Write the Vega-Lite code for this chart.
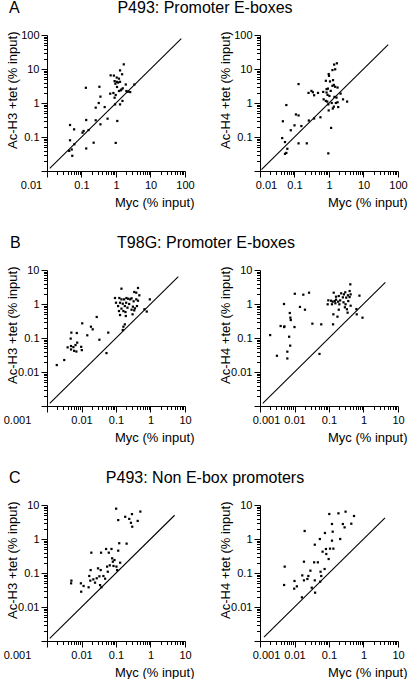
{
  "$schema": "https://vega.github.io/schema/vega-lite/v6.json",
  "padding": {"left": 3, "top": 0, "right": 0, "bottom": 0},
  "background": "white",
  "config": {
    "font": "Liberation Sans",
    "view": {"stroke": null},
    "axis": {"domainColor": "black", "domainWidth": 1, "tickColor": "black", "tickWidth": 1, "labelColor": "black", "labelFontSize": 11, "labelFont": "Liberation Sans", "titleFont": "Liberation Sans", "titleFontSize": 13, "titleFontWeight": "normal", "titleColor": "black", "grid": false, "labelOverlap": false, "labelFlush": false, "labelBound": false},
    "title": {"fontSize": 16, "fontWeight": "normal", "color": "black", "font": "Liberation Sans", "offset": 13, "baseline": "alphabetic", "frame": "group"}
  },
  "datasets": {
    "A1": [{"x":1.68,"y":13.7},{"x":1.31,"y":9.1},{"x":0.70,"y":6.5},{"x":0.87,"y":6.4},{"x":1.50,"y":7.0},{"x":1.05,"y":5.6},{"x":1.22,"y":5.2},{"x":0.91,"y":4.4},{"x":1.05,"y":4.2},{"x":1.15,"y":4.0},{"x":0.96,"y":3.7},{"x":1.31,"y":4.2},{"x":0.33,"y":3.0},{"x":0.134,"y":2.8},{"x":1.92,"y":3.5},{"x":1.07,"y":2.96},{"x":1.44,"y":2.5},{"x":1.57,"y":2.7},{"x":3.4,"y":3.5},{"x":0.68,"y":1.88},{"x":0.84,"y":1.97},{"x":0.98,"y":1.72},{"x":0.91,"y":1.43},{"x":1.22,"y":2.25},{"x":1.37,"y":2.36},{"x":2.0,"y":2.25},{"x":2.25,"y":2.15},{"x":2.58,"y":2.1},{"x":0.354,"y":1.54},{"x":1.54,"y":1.15},{"x":1.31,"y":0.91},{"x":0.316,"y":1.0},{"x":0.258,"y":0.73},{"x":0.47,"y":0.76},{"x":0.94,"y":0.91},{"x":1.09,"y":0.296},{"x":0.57,"y":0.346},{"x":0.137,"y":0.316},{"x":0.258,"y":0.31},{"x":0.354,"y":0.236},{"x":0.16,"y":0.16},{"x":0.115,"y":0.15},{"x":0.107,"y":0.134},{"x":0.0465,"y":0.225},{"x":0.061,"y":0.168},{"x":0.0465,"y":0.08},{"x":0.062,"y":0.061},{"x":0.052,"y":0.043},{"x":0.044,"y":0.039},{"x":0.054,"y":0.028},{"x":0.137,"y":0.046},{"x":0.225,"y":0.068},{"x":0.98,"y":0.067}],
    "A2": [{"x":1.69,"y":14.7},{"x":1.41,"y":13.5},{"x":1.51,"y":9.8},{"x":1.26,"y":9.3},{"x":0.98,"y":7.1},{"x":1.0,"y":6.3},{"x":0.81,"y":4.5},{"x":1.07,"y":4.3},{"x":1.31,"y":4.7},{"x":0.131,"y":3.6},{"x":1.38,"y":3.4},{"x":1.26,"y":3.2},{"x":1.51,"y":3.0},{"x":0.85,"y":2.55},{"x":0.93,"y":2.65},{"x":1.12,"y":2.27},{"x":1.77,"y":2.85},{"x":0.31,"y":2.27},{"x":0.34,"y":2.07},{"x":0.255,"y":1.98},{"x":0.48,"y":1.98},{"x":0.37,"y":1.69},{"x":0.68,"y":2.12},{"x":0.85,"y":2.03},{"x":0.91,"y":1.73},{"x":1.03,"y":1.61},{"x":2.17,"y":1.89},{"x":1.44,"y":1.51},{"x":1.65,"y":1.44},{"x":0.70,"y":1.28},{"x":2.55,"y":1.28},{"x":0.81,"y":1.15},{"x":0.89,"y":1.10},{"x":3.35,"y":1.10},{"x":0.058,"y":0.87},{"x":0.955,"y":0.91},{"x":1.2,"y":1.0},{"x":1.58,"y":1.0},{"x":1.77,"y":1.05},{"x":1.38,"y":0.78},{"x":1.85,"y":0.76},{"x":1.29,"y":0.69},{"x":0.98,"y":0.605},{"x":0.11,"y":0.46},{"x":0.131,"y":0.43},{"x":0.26,"y":0.305},{"x":0.37,"y":0.35},{"x":0.565,"y":0.38},{"x":0.046,"y":0.29},{"x":0.158,"y":0.21},{"x":0.1,"y":0.22},{"x":0.078,"y":0.158},{"x":1.15,"y":0.185},{"x":0.044,"y":0.093},{"x":0.053,"y":0.071},{"x":0.131,"y":0.065},{"x":0.227,"y":0.065},{"x":0.062,"y":0.045},{"x":0.053,"y":0.032},{"x":0.058,"y":0.034},{"x":0.955,"y":0.033}],
    "B1": [{"x":0.434,"y":2.96},{"x":0.144,"y":2.82},{"x":0.338,"y":2.25},{"x":0.387,"y":2.15},{"x":0.474,"y":1.8},{"x":0.0935,"y":1.5},{"x":0.125,"y":1.5},{"x":0.144,"y":1.37},{"x":0.172,"y":1.37},{"x":0.2,"y":1.5},{"x":0.225,"y":1.43},{"x":0.283,"y":1.47},{"x":0.258,"y":1.37},{"x":0.387,"y":1.37},{"x":0.956,"y":1.37},{"x":0.1,"y":1.09},{"x":0.131,"y":1.09},{"x":0.157,"y":1.02},{"x":0.197,"y":1.09},{"x":0.241,"y":1.0},{"x":0.324,"y":1.2},{"x":0.434,"y":1.25},{"x":0.115,"y":0.87},{"x":0.18,"y":0.87},{"x":0.215,"y":0.78},{"x":0.144,"y":0.73},{"x":0.309,"y":0.835},{"x":0.354,"y":0.746},{"x":0.405,"y":0.87},{"x":0.122,"y":0.62},{"x":0.164,"y":0.62},{"x":0.188,"y":0.58},{"x":0.283,"y":0.68},{"x":0.338,"y":0.65},{"x":0.667,"y":0.7},{"x":0.78,"y":0.6},{"x":0.131,"y":0.474},{"x":0.192,"y":0.443},{"x":0.302,"y":0.497},{"x":0.0276,"y":0.415},{"x":0.0105,"y":0.27},{"x":0.0188,"y":0.215},{"x":0.0211,"y":0.18},{"x":0.18,"y":0.252},{"x":0.164,"y":0.215},{"x":0.157,"y":0.172},{"x":0.0596,"y":0.144},{"x":0.00508,"y":0.144},{"x":0.0073,"y":0.14},{"x":0.0147,"y":0.12},{"x":0.00486,"y":0.096},{"x":0.033,"y":0.089},{"x":0.0075,"y":0.073},{"x":0.0067,"y":0.062},{"x":0.00396,"y":0.053},{"x":0.00497,"y":0.058},{"x":0.00582,"y":0.054},{"x":0.0098,"y":0.055},{"x":0.0102,"y":0.044},{"x":0.00497,"y":0.046},{"x":0.0061,"y":0.042},{"x":0.0071,"y":0.04},{"x":0.053,"y":0.036},{"x":0.00316,"y":0.0225},{"x":0.00192,"y":0.016}],
    "B2": [{"x":0.415,"y":3.79},{"x":0.137,"y":2.15},{"x":0.296,"y":2.2},{"x":0.396,"y":2.41},{"x":0.762,"y":1.76},{"x":0.0264,"y":2.15},{"x":0.0102,"y":2.0},{"x":0.018,"y":1.88},{"x":0.225,"y":2.06},{"x":0.27,"y":1.92},{"x":0.354,"y":1.8},{"x":0.424,"y":1.92},{"x":0.16,"y":1.64},{"x":0.192,"y":1.72},{"x":0.252,"y":1.57},{"x":0.316,"y":1.54},{"x":0.396,"y":1.6},{"x":0.0955,"y":1.28},{"x":0.115,"y":1.25},{"x":0.128,"y":1.17},{"x":0.147,"y":1.22},{"x":0.16,"y":1.34},{"x":0.184,"y":1.17},{"x":0.211,"y":1.28},{"x":0.122,"y":0.98},{"x":0.153,"y":1.05},{"x":0.2,"y":0.98},{"x":0.264,"y":1.12},{"x":0.302,"y":0.98},{"x":0.362,"y":1.22},{"x":0.0914,"y":0.98},{"x":0.424,"y":0.89},{"x":0.289,"y":0.8},{"x":0.331,"y":0.7},{"x":0.622,"y":0.71},{"x":0.00497,"y":1.0},{"x":0.0144,"y":0.82},{"x":0.0201,"y":0.68},{"x":0.192,"y":0.68},{"x":0.134,"y":0.497},{"x":0.346,"y":0.556},{"x":0.637,"y":0.497},{"x":0.935,"y":0.396},{"x":0.176,"y":0.424},{"x":0.0073,"y":0.543},{"x":0.0076,"y":0.396},{"x":0.0078,"y":0.338},{"x":0.00396,"y":0.225},{"x":0.0051,"y":0.22},{"x":0.005,"y":0.21},{"x":0.01,"y":0.21},{"x":0.033,"y":0.264},{"x":0.0596,"y":0.252},{"x":0.131,"y":0.252},{"x":0.00197,"y":0.122},{"x":0.007,"y":0.109},{"x":0.0075,"y":0.0596},{"x":0.0062,"y":0.0396},{"x":0.0031,"y":0.03},{"x":0.0062,"y":0.025},{"x":0.053,"y":0.034}],
    "C1": [{"x":0.101,"y":7.8},{"x":0.508,"y":6.4},{"x":0.29,"y":5.4},{"x":0.185,"y":4.5},{"x":0.242,"y":3.9},{"x":0.116,"y":3.6},{"x":0.425,"y":3.4},{"x":0.271,"y":3.0},{"x":0.296,"y":2.3},{"x":0.124,"y":0.75},{"x":0.203,"y":0.73},{"x":0.0193,"y":0.396},{"x":0.0369,"y":0.396},{"x":0.0516,"y":0.508},{"x":0.074,"y":0.508},{"x":0.0618,"y":0.396},{"x":0.116,"y":0.454},{"x":0.0773,"y":0.27},{"x":0.0904,"y":0.241},{"x":0.132,"y":0.201},{"x":0.081,"y":0.215},{"x":0.066,"y":0.168},{"x":0.0846,"y":0.161},{"x":0.103,"y":0.154},{"x":0.0552,"y":0.154},{"x":0.108,"y":0.122},{"x":0.0301,"y":0.137},{"x":0.036,"y":0.122},{"x":0.0578,"y":0.109},{"x":0.0184,"y":0.122},{"x":0.0431,"y":0.0816},{"x":0.033,"y":0.08},{"x":0.0483,"y":0.068},{"x":0.0168,"y":0.0816},{"x":0.022,"y":0.065},{"x":0.0276,"y":0.07},{"x":0.018,"y":0.0596},{"x":0.0247,"y":0.052},{"x":0.0345,"y":0.044},{"x":0.0378,"y":0.038},{"x":0.0161,"y":0.038},{"x":0.0096,"y":0.0497},{"x":0.0115,"y":0.0415},{"x":0.0098,"y":0.0282},{"x":0.0051,"y":0.0596},{"x":0.005,"y":0.0497}],
    "C2": [{"x":0.302,"y":6.37},{"x":0.102,"y":5.43},{"x":0.188,"y":5.69},{"x":0.531,"y":4.75},{"x":0.122,"y":2.76},{"x":0.252,"y":2.76},{"x":0.443,"y":2.82},{"x":0.283,"y":2.2},{"x":0.0197,"y":1.72},{"x":0.128,"y":1.64},{"x":0.0762,"y":1.5},{"x":0.0543,"y":1.0},{"x":0.211,"y":1.0},{"x":0.122,"y":0.893},{"x":0.0387,"y":0.68},{"x":0.0816,"y":0.508},{"x":0.107,"y":0.52},{"x":0.134,"y":0.52},{"x":0.0652,"y":0.424},{"x":0.0835,"y":0.362},{"x":0.0977,"y":0.258},{"x":0.0188,"y":0.215},{"x":0.037,"y":0.206},{"x":0.0475,"y":0.206},{"x":0.0052,"y":0.154},{"x":0.0746,"y":0.131},{"x":0.0569,"y":0.109},{"x":0.0289,"y":0.117},{"x":0.0168,"y":0.085},{"x":0.0252,"y":0.0816},{"x":0.0596,"y":0.0816},{"x":0.0236,"y":0.0667},{"x":0.0188,"y":0.0608},{"x":0.0387,"y":0.0608},{"x":0.0556,"y":0.0556},{"x":0.01,"y":0.0582},{"x":0.005,"y":0.0444},{"x":0.0117,"y":0.0405},{"x":0.0098,"y":0.0346},{"x":0.0316,"y":0.037},{"x":0.0396,"y":0.0264},{"x":0.0164,"y":0.0192}],
    "LA1": [{"x":0.012,"y":0.012},{"x":78,"y":78}],
    "LA2": [{"x":0.011,"y":0.011},{"x":52,"y":52}],
    "LB1": [{"x":0.0012,"y":0.0012},{"x":6.4,"y":6.4}],
    "LB2": [{"x":0.0012,"y":0.0012},{"x":4.3,"y":4.3}],
    "LC1": [{"x":0.0012,"y":0.0012},{"x":5,"y":5}],
    "LC2": [{"x":0.0013,"y":0.0013},{"x":4.2,"y":4.2}]
  },
  "columns": 2,
  "bounds": "flush",
  "spacing": {"row": 99, "column": 75},
  "concat": [
    {
      "width": 138, "height": 136,
      "title": {"text": "A", "anchor": "start", "dx": -38},
      "encoding": {
        "x": {"field": "x", "type": "quantitative", "scale": {"type": "log", "domain": [0.01, 100], "nice": false},
          "axis": {"title": "Myc (% input)", "values": [0.01,0.02,0.03,0.04,0.05,0.06,0.07,0.08,0.09,0.1,0.2,0.3,0.4,0.5,0.6,0.7,0.8,0.9,1,2,3,4,5,6,7,8,9,10,20,30,40,50,60,70,80,90,100],
            "labelExpr": "abs(log(datum.value)/LN10 - round(log(datum.value)/LN10)) < 0.001 ? format(datum.value, '~g') : ''",
            "tickSize": {"condition": {"test": "abs(log(datum.value)/LN10 - round(log(datum.value)/LN10)) < 0.001", "value": 6}, "value": 3.5},
            "labelOffset": {"condition": {"test": "datum.value < 0.011", "value": -16}, "value": 0},
            "labelPadding": 2, "titleAnchor": "end", "titleAlign": "right", "titleX": 147, "titleY": 25, "titleBaseline": "top"}},
        "y": {"field": "y", "type": "quantitative", "scale": {"type": "log", "domain": [0.01, 100], "nice": false},
          "axis": {"title": "Ac-H3 +tet (% input)", "values": [0.01,0.02,0.03,0.04,0.05,0.06,0.07,0.08,0.09,0.1,0.2,0.3,0.4,0.5,0.6,0.7,0.8,0.9,1,2,3,4,5,6,7,8,9,10,20,30,40,50,60,70,80,90,100],
            "labelExpr": "datum.value < 0.011 ? '' : (abs(log(datum.value)/LN10 - round(log(datum.value)/LN10)) < 0.001 ? format(datum.value, '~g') : '')",
            "tickSize": {"condition": {"test": "abs(log(datum.value)/LN10 - round(log(datum.value)/LN10)) < 0.001", "value": 6}, "value": 3.5},
            "labelPadding": 2, "titleAnchor": "end", "titleAlign": "right", "titleX": -28, "titleY": -4, "titleBaseline": "bottom"}}
      },
      "layer": [
        {"data": {"name": "LA1"}, "mark": {"type": "line", "color": "black", "strokeWidth": 1.1}, "encoding": {}},
        {"data": {"name": "A1"}, "mark": {"type": "square", "size": 5, "color": "black", "opacity": 1}, "encoding": {}}
      ]
    },
    {
      "width": 138, "height": 136,
      "title": {"text": "P493: Promoter E-boxes", "anchor": "middle", "dx": -124},
      "encoding": {
        "x": {"field": "x", "type": "quantitative", "scale": {"type": "log", "domain": [0.01, 100], "nice": false},
          "axis": {"title": "Myc (% input)", "values": [0.01,0.02,0.03,0.04,0.05,0.06,0.07,0.08,0.09,0.1,0.2,0.3,0.4,0.5,0.6,0.7,0.8,0.9,1,2,3,4,5,6,7,8,9,10,20,30,40,50,60,70,80,90,100],
            "labelExpr": "abs(log(datum.value)/LN10 - round(log(datum.value)/LN10)) < 0.001 ? format(datum.value, '~g') : ''",
            "tickSize": {"condition": {"test": "abs(log(datum.value)/LN10 - round(log(datum.value)/LN10)) < 0.001", "value": 6}, "value": 3.5},
            "labelOffset": {"condition": {"test": "datum.value < 0.011", "value": 6}, "value": 0},
            "labelPadding": 2, "titleAnchor": "end", "titleAlign": "right", "titleX": 147, "titleY": 25, "titleBaseline": "top"}},
        "y": {"field": "y", "type": "quantitative", "scale": {"type": "log", "domain": [0.01, 100], "nice": false},
          "axis": {"title": "Ac-H4 +tet (% input)", "values": [0.01,0.02,0.03,0.04,0.05,0.06,0.07,0.08,0.09,0.1,0.2,0.3,0.4,0.5,0.6,0.7,0.8,0.9,1,2,3,4,5,6,7,8,9,10,20,30,40,50,60,70,80,90,100],
            "labelExpr": "datum.value < 0.011 ? '' : (abs(log(datum.value)/LN10 - round(log(datum.value)/LN10)) < 0.001 ? format(datum.value, '~g') : '')",
            "tickSize": {"condition": {"test": "abs(log(datum.value)/LN10 - round(log(datum.value)/LN10)) < 0.001", "value": 6}, "value": 3.5},
            "labelPadding": 2, "titleAnchor": "end", "titleAlign": "right", "titleX": -28, "titleY": -4, "titleBaseline": "bottom"}}
      },
      "layer": [
        {"data": {"name": "LA2"}, "mark": {"type": "line", "color": "black", "strokeWidth": 1.1}, "encoding": {}},
        {"data": {"name": "A2"}, "mark": {"type": "square", "size": 5, "color": "black", "opacity": 1}, "encoding": {}}
      ]
    },
    {
      "width": 138, "height": 136,
      "title": {"text": "B", "anchor": "start", "dx": -37},
      "encoding": {
        "x": {"field": "x", "type": "quantitative", "scale": {"type": "log", "domain": [0.001, 10], "nice": false},
          "axis": {"title": "Myc (% input)", "values": [0.001,0.002,0.003,0.004,0.005,0.006,0.007,0.008,0.009,0.01,0.02,0.03,0.04,0.05,0.06,0.07,0.08,0.09,0.1,0.2,0.3,0.4,0.5,0.6,0.7,0.8,0.9,1,2,3,4,5,6,7,8,9,10],
            "labelExpr": "abs(log(datum.value)/LN10 - round(log(datum.value)/LN10)) < 0.001 ? format(datum.value, '~g') : ''",
            "tickSize": {"condition": {"test": "abs(log(datum.value)/LN10 - round(log(datum.value)/LN10)) < 0.001", "value": 6}, "value": 3.5},
            "labelOffset": {"condition": {"test": "datum.value < 0.0011", "value": -30}, "value": 0},
            "labelPadding": 2, "titleAnchor": "end", "titleAlign": "right", "titleX": 147, "titleY": 25, "titleBaseline": "top"}},
        "y": {"field": "y", "type": "quantitative", "scale": {"type": "log", "domain": [0.001, 10], "nice": false},
          "axis": {"title": "Ac-H3 +tet (% input)", "values": [0.001,0.002,0.003,0.004,0.005,0.006,0.007,0.008,0.009,0.01,0.02,0.03,0.04,0.05,0.06,0.07,0.08,0.09,0.1,0.2,0.3,0.4,0.5,0.6,0.7,0.8,0.9,1,2,3,4,5,6,7,8,9,10],
            "labelExpr": "datum.value < 0.0011 ? '' : (abs(log(datum.value)/LN10 - round(log(datum.value)/LN10)) < 0.001 ? format(datum.value, '~g') : '')",
            "tickSize": {"condition": {"test": "abs(log(datum.value)/LN10 - round(log(datum.value)/LN10)) < 0.001", "value": 6}, "value": 3.5},
            "labelPadding": 2, "titleAnchor": "end", "titleAlign": "right", "titleX": -28, "titleY": -4, "titleBaseline": "bottom"}}
      },
      "layer": [
        {"data": {"name": "LB1"}, "mark": {"type": "line", "color": "black", "strokeWidth": 1.1}, "encoding": {}},
        {"data": {"name": "B1"}, "mark": {"type": "square", "size": 5, "color": "black", "opacity": 1}, "encoding": {}}
      ]
    },
    {
      "width": 138, "height": 136,
      "title": {"text": "T98G: Promoter E-boxes", "anchor": "middle", "dx": -123},
      "encoding": {
        "x": {"field": "x", "type": "quantitative", "scale": {"type": "log", "domain": [0.001, 10], "nice": false},
          "axis": {"title": "Myc (% input)", "values": [0.001,0.002,0.003,0.004,0.005,0.006,0.007,0.008,0.009,0.01,0.02,0.03,0.04,0.05,0.06,0.07,0.08,0.09,0.1,0.2,0.3,0.4,0.5,0.6,0.7,0.8,0.9,1,2,3,4,5,6,7,8,9,10],
            "labelExpr": "abs(log(datum.value)/LN10 - round(log(datum.value)/LN10)) < 0.001 ? format(datum.value, '~g') : ''",
            "tickSize": {"condition": {"test": "abs(log(datum.value)/LN10 - round(log(datum.value)/LN10)) < 0.001", "value": 6}, "value": 3.5},
            "labelOffset": {"condition": {"test": "datum.value < 0.0011", "value": 6}, "value": 0},
            "labelPadding": 2, "titleAnchor": "end", "titleAlign": "right", "titleX": 147, "titleY": 25, "titleBaseline": "top"}},
        "y": {"field": "y", "type": "quantitative", "scale": {"type": "log", "domain": [0.001, 10], "nice": false},
          "axis": {"title": "Ac-H4 +tet (% input)", "values": [0.001,0.002,0.003,0.004,0.005,0.006,0.007,0.008,0.009,0.01,0.02,0.03,0.04,0.05,0.06,0.07,0.08,0.09,0.1,0.2,0.3,0.4,0.5,0.6,0.7,0.8,0.9,1,2,3,4,5,6,7,8,9,10],
            "labelExpr": "datum.value < 0.0011 ? '' : (abs(log(datum.value)/LN10 - round(log(datum.value)/LN10)) < 0.001 ? format(datum.value, '~g') : '')",
            "tickSize": {"condition": {"test": "abs(log(datum.value)/LN10 - round(log(datum.value)/LN10)) < 0.001", "value": 6}, "value": 3.5},
            "labelPadding": 2, "titleAnchor": "end", "titleAlign": "right", "titleX": -28, "titleY": -4, "titleBaseline": "bottom"}}
      },
      "layer": [
        {"data": {"name": "LB2"}, "mark": {"type": "line", "color": "black", "strokeWidth": 1.1}, "encoding": {}},
        {"data": {"name": "B2"}, "mark": {"type": "square", "size": 5, "color": "black", "opacity": 1}, "encoding": {}}
      ]
    },
    {
      "width": 138, "height": 136,
      "title": {"text": "C", "anchor": "start", "dx": -38},
      "encoding": {
        "x": {"field": "x", "type": "quantitative", "scale": {"type": "log", "domain": [0.001, 10], "nice": false},
          "axis": {"title": "Myc (% input)", "values": [0.001,0.002,0.003,0.004,0.005,0.006,0.007,0.008,0.009,0.01,0.02,0.03,0.04,0.05,0.06,0.07,0.08,0.09,0.1,0.2,0.3,0.4,0.5,0.6,0.7,0.8,0.9,1,2,3,4,5,6,7,8,9,10],
            "labelExpr": "abs(log(datum.value)/LN10 - round(log(datum.value)/LN10)) < 0.001 ? format(datum.value, '~g') : ''",
            "tickSize": {"condition": {"test": "abs(log(datum.value)/LN10 - round(log(datum.value)/LN10)) < 0.001", "value": 6}, "value": 3.5},
            "labelOffset": {"condition": {"test": "datum.value < 0.0011", "value": -30}, "value": 0},
            "labelPadding": 2, "titleAnchor": "end", "titleAlign": "right", "titleX": 147, "titleY": 25, "titleBaseline": "top"}},
        "y": {"field": "y", "type": "quantitative", "scale": {"type": "log", "domain": [0.001, 10], "nice": false},
          "axis": {"title": "Ac-H3 +tet (% input)", "values": [0.001,0.002,0.003,0.004,0.005,0.006,0.007,0.008,0.009,0.01,0.02,0.03,0.04,0.05,0.06,0.07,0.08,0.09,0.1,0.2,0.3,0.4,0.5,0.6,0.7,0.8,0.9,1,2,3,4,5,6,7,8,9,10],
            "labelExpr": "datum.value < 0.0011 ? '' : (abs(log(datum.value)/LN10 - round(log(datum.value)/LN10)) < 0.001 ? format(datum.value, '~g') : '')",
            "tickSize": {"condition": {"test": "abs(log(datum.value)/LN10 - round(log(datum.value)/LN10)) < 0.001", "value": 6}, "value": 3.5},
            "labelPadding": 2, "titleAnchor": "end", "titleAlign": "right", "titleX": -28, "titleY": -4, "titleBaseline": "bottom"}}
      },
      "layer": [
        {"data": {"name": "LC1"}, "mark": {"type": "line", "color": "black", "strokeWidth": 1.1}, "encoding": {}},
        {"data": {"name": "C1"}, "mark": {"type": "square", "size": 5, "color": "black", "opacity": 1}, "encoding": {}}
      ]
    },
    {
      "width": 138, "height": 136,
      "title": {"text": "P493: Non E-box promoters", "anchor": "middle", "dx": -124},
      "encoding": {
        "x": {"field": "x", "type": "quantitative", "scale": {"type": "log", "domain": [0.001, 10], "nice": false},
          "axis": {"title": "Myc (% input)", "values": [0.001,0.002,0.003,0.004,0.005,0.006,0.007,0.008,0.009,0.01,0.02,0.03,0.04,0.05,0.06,0.07,0.08,0.09,0.1,0.2,0.3,0.4,0.5,0.6,0.7,0.8,0.9,1,2,3,4,5,6,7,8,9,10],
            "labelExpr": "abs(log(datum.value)/LN10 - round(log(datum.value)/LN10)) < 0.001 ? format(datum.value, '~g') : ''",
            "tickSize": {"condition": {"test": "abs(log(datum.value)/LN10 - round(log(datum.value)/LN10)) < 0.001", "value": 6}, "value": 3.5},
            "labelOffset": {"condition": {"test": "datum.value < 0.0011", "value": 6}, "value": 0},
            "labelPadding": 2, "titleAnchor": "end", "titleAlign": "right", "titleX": 147, "titleY": 25, "titleBaseline": "top"}},
        "y": {"field": "y", "type": "quantitative", "scale": {"type": "log", "domain": [0.001, 10], "nice": false},
          "axis": {"title": "Ac-H4 +tet (% input)", "values": [0.001,0.002,0.003,0.004,0.005,0.006,0.007,0.008,0.009,0.01,0.02,0.03,0.04,0.05,0.06,0.07,0.08,0.09,0.1,0.2,0.3,0.4,0.5,0.6,0.7,0.8,0.9,1,2,3,4,5,6,7,8,9,10],
            "labelExpr": "datum.value < 0.0011 ? '' : (abs(log(datum.value)/LN10 - round(log(datum.value)/LN10)) < 0.001 ? format(datum.value, '~g') : '')",
            "tickSize": {"condition": {"test": "abs(log(datum.value)/LN10 - round(log(datum.value)/LN10)) < 0.001", "value": 6}, "value": 3.5},
            "labelPadding": 2, "titleAnchor": "end", "titleAlign": "right", "titleX": -28, "titleY": -4, "titleBaseline": "bottom"}}
      },
      "layer": [
        {"data": {"name": "LC2"}, "mark": {"type": "line", "color": "black", "strokeWidth": 1.1}, "encoding": {}},
        {"data": {"name": "C2"}, "mark": {"type": "square", "size": 5, "color": "black", "opacity": 1}, "encoding": {}}
      ]
    }
  ]
}
